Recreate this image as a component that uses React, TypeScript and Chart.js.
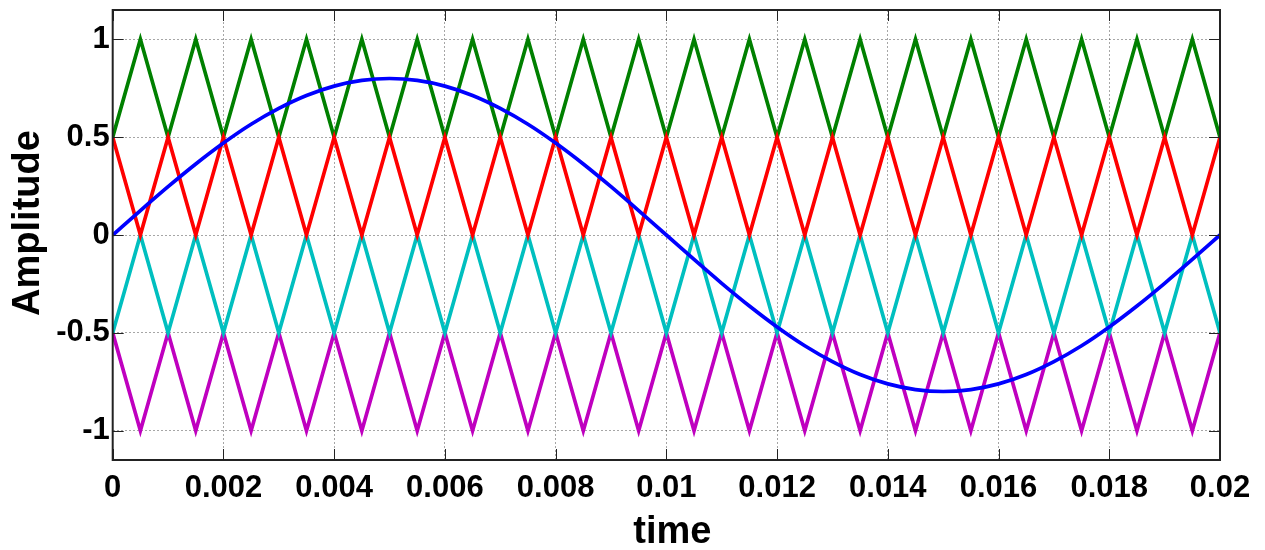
import { useEffect, useRef } from 'react';
import { Chart, registerables } from 'chart.js';

Chart.register(...registerables);

// time samples (s)
const times = [
  0, 0.0005, 0.001, 0.0015, 0.002, 0.0025, 0.003, 0.0035, 0.004, 0.0045,
  0.005, 0.0055, 0.006, 0.0065, 0.007, 0.0075, 0.008, 0.0085, 0.009, 0.0095,
  0.01, 0.0105, 0.011, 0.0115, 0.012, 0.0125, 0.013, 0.0135, 0.014, 0.0145,
  0.015, 0.0155, 0.016, 0.0165, 0.017, 0.0175, 0.018, 0.0185, 0.019, 0.0195,
  0.02,
];

// reference (modulating) signal
const reference = [
  0, 0.125, 0.247, 0.363, 0.47, 0.566, 0.647, 0.713, 0.761, 0.79,
  0.8, 0.79, 0.761, 0.713, 0.647, 0.566, 0.47, 0.363, 0.247, 0.125,
  0, -0.125, -0.247, -0.363, -0.47, -0.566, -0.647, -0.713, -0.761, -0.79,
  -0.8, -0.79, -0.761, -0.713, -0.647, -0.566, -0.47, -0.363, -0.247, -0.125,
  0,
];

// carrier 1 (green): 0.5 .. 1
const carrierGreen = [
  0.5, 1, 0.5, 1, 0.5, 1, 0.5, 1, 0.5, 1,
  0.5, 1, 0.5, 1, 0.5, 1, 0.5, 1, 0.5, 1,
  0.5, 1, 0.5, 1, 0.5, 1, 0.5, 1, 0.5, 1,
  0.5, 1, 0.5, 1, 0.5, 1, 0.5, 1, 0.5, 1,
  0.5,
];

// carrier 2 (red): 0 .. 0.5
const carrierRed = [
  0.5, 0, 0.5, 0, 0.5, 0, 0.5, 0, 0.5, 0,
  0.5, 0, 0.5, 0, 0.5, 0, 0.5, 0, 0.5, 0,
  0.5, 0, 0.5, 0, 0.5, 0, 0.5, 0, 0.5, 0,
  0.5, 0, 0.5, 0, 0.5, 0, 0.5, 0, 0.5, 0,
  0.5,
];

// carrier 3 (cyan): -0.5 .. 0
const carrierCyan = [
  -0.5, 0, -0.5, 0, -0.5, 0, -0.5, 0, -0.5, 0,
  -0.5, 0, -0.5, 0, -0.5, 0, -0.5, 0, -0.5, 0,
  -0.5, 0, -0.5, 0, -0.5, 0, -0.5, 0, -0.5, 0,
  -0.5, 0, -0.5, 0, -0.5, 0, -0.5, 0, -0.5, 0,
  -0.5,
];

// carrier 4 (magenta): -1 .. -0.5
const carrierMagenta = [
  -0.5, -1, -0.5, -1, -0.5, -1, -0.5, -1, -0.5, -1,
  -0.5, -1, -0.5, -1, -0.5, -1, -0.5, -1, -0.5, -1,
  -0.5, -1, -0.5, -1, -0.5, -1, -0.5, -1, -0.5, -1,
  -0.5, -1, -0.5, -1, -0.5, -1, -0.5, -1, -0.5, -1,
  -0.5,
];

const xTicks = [0, 0.002, 0.004, 0.006, 0.008, 0.01, 0.012, 0.014, 0.016, 0.018, 0.02];
const xTickLabels = ['0', '0.002', '0.004', '0.006', '0.008', '0.01', '0.012', '0.014', '0.016', '0.018', '0.02'];
const yTicks = [-1, -0.5, 0, 0.5, 1];
const yTickLabels = ['-1', '-0.5', '0', '0.5', '1'];
const xTitle = 'time';
const yTitle = 'Amplitude';

const FONT = "'Liberation Sans', Arial, Helvetica, sans-serif";

const toPoints = (ys: number[]) => times.map((t, i) => ({ x: t, y: ys[i] }));

const boxPlugin = {
  id: 'matlabBox',
  afterDatasetsDraw(chart: any) {
    const { ctx, chartArea: a, scales } = chart;
    const len = 11;
    ctx.save();
    ctx.strokeStyle = '#222';
    ctx.lineWidth = 1;
    ctx.beginPath();
    for (const v of xTicks) {
      const px = Math.round(scales.x.getPixelForValue(v)) + 0.5;
      ctx.moveTo(px, a.bottom);
      ctx.lineTo(px, a.bottom - len);
      ctx.moveTo(px, a.top);
      ctx.lineTo(px, a.top + len);
    }
    for (const v of yTicks) {
      const py = Math.round(scales.y.getPixelForValue(v)) + 0.5;
      ctx.moveTo(a.left, py);
      ctx.lineTo(a.left + len, py);
      ctx.moveTo(a.right, py);
      ctx.lineTo(a.right - len, py);
    }
    ctx.stroke();
    ctx.lineWidth = 2;
    ctx.strokeStyle = '#222';
    ctx.strokeRect(a.left, a.top, a.right - a.left, a.bottom - a.top);

    // axis titles (MATLAB places them slightly off the axis centre)
    ctx.fillStyle = '#000';
    ctx.font = `bold 38px ${FONT}`;
    ctx.textAlign = 'center';
    ctx.textBaseline = 'middle';
    ctx.fillText(xTitle, (a.left + a.right) / 2 + 6, chart.height - 17);
    ctx.translate(29, (a.top + a.bottom) / 2 - 12);
    ctx.rotate(-Math.PI / 2);
    ctx.fillText(yTitle, 0, 0);
    ctx.restore();
  },
};

export default function App() {
  const ref = useRef<HTMLCanvasElement | null>(null);

  useEffect(() => {
    if (!ref.current) return;
    const lw = 3.7;
    const chart = new Chart(ref.current, {
      type: 'line',
      data: {
        datasets: [
          { label: 'reference', data: toPoints(reference), borderColor: '#0000ff', borderWidth: lw, pointRadius: 0, cubicInterpolationMode: 'monotone', fill: false },
          { label: 'carrier2', data: toPoints(carrierRed), borderColor: '#ff0000', borderWidth: lw, pointRadius: 0, tension: 0, fill: false },
          { label: 'carrier1', data: toPoints(carrierGreen), borderColor: '#008000', borderWidth: lw, pointRadius: 0, tension: 0, fill: false },
          { label: 'carrier3', data: toPoints(carrierCyan), borderColor: '#00bfbf', borderWidth: lw, pointRadius: 0, tension: 0, fill: false },
          { label: 'carrier4', data: toPoints(carrierMagenta), borderColor: '#bf00bf', borderWidth: lw, pointRadius: 0, tension: 0, fill: false },
        ],
      },
      options: {
        animation: false,
        responsive: true,
        maintainAspectRatio: false,
        layout: { padding: { top: 10, right: 45, left: 0, bottom: 0 } },
        plugins: {
          legend: { display: false },
          tooltip: { enabled: false },
        },
        scales: {
          x: {
            type: 'linear',
            min: 0,
            max: 0.02,
            afterBuildTicks: (s: any) => {
              s.ticks = xTicks.map((v) => ({ value: v }));
            },
            afterFit: (s: any) => {
              s.height = 90;
              s.paddingLeft = 0;
              s.paddingRight = 0;
            },
            ticks: {
              autoSkip: false,
              maxRotation: 0,
              padding: 10,
              color: '#000',
              font: { family: FONT, size: 31, weight: 'bold' },
              callback: (_v: any, i: number) => xTickLabels[i],
            },
            grid: { color: 'rgba(0,0,0,0.35)', drawTicks: false, lineWidth: 1 },
            border: { display: false, dash: [2, 2] },
            title: { display: false },
          },
          y: {
            type: 'linear',
            min: -1.15,
            max: 1.15,
            afterBuildTicks: (s: any) => {
              s.ticks = yTicks.map((v) => ({ value: v }));
            },
            afterFit: (s: any) => {
              s.width = 112.7;
              s.paddingTop = 0;
              s.paddingBottom = 0;
            },
            ticks: {
              padding: 3,
              color: '#000',
              font: { family: FONT, size: 31, weight: 'bold' },
              callback: (_v: any, i: number) => yTickLabels[i],
            },
            grid: { color: 'rgba(0,0,0,0.35)', drawTicks: false, lineWidth: 1 },
            border: { display: false, dash: [2, 2] },
            title: { display: false },
          },
        },
      },
      plugins: [boxPlugin],
    } as any);
    return () => chart.destroy();
  }, []);

  return (
    <div style={{ position: 'absolute', left: 0, top: 0, width: 1265, height: 550 }}>
      <canvas ref={ref} />
    </div>
  );
}
